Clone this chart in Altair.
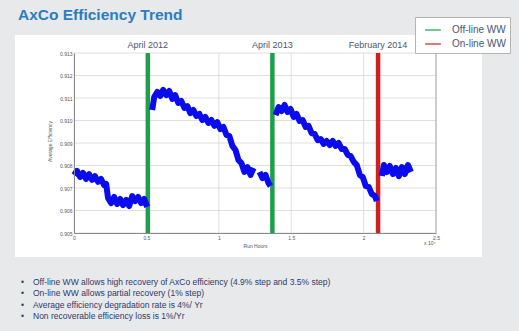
import altair as alt
import pandas as pd

# ---- efficiency trend, one run per wash interval (hours, efficiency) ----
run1_hours = [0, 210, 420, 620, 830, 1040, 1250, 1450, 1660, 1870, 2080, 2220,
              2350, 2560, 2770, 2980, 3190, 3390, 3600, 3810, 4020, 4220, 4430, 4640, 4850, 5050]
run1_eff = [0.90758, 0.90776, 0.90749, 0.90767, 0.90740, 0.90762, 0.90736, 0.90753, 0.90727, 0.90740, 0.90713, 0.90718,
            0.90656, 0.90633, 0.90660, 0.90629, 0.90651, 0.90624, 0.90647, 0.90620, 0.90664, 0.90642, 0.90660, 0.90633, 0.90651, 0.90616]

run2_hours = [5400, 5540, 5750, 5960, 6160, 6370, 6580, 6790, 6990, 7200, 7410, 7620, 7830, 8030, 8240, 8450, 8660, 8860,
              9070, 9280, 9490, 9700, 9900, 10110, 10320, 10530, 10730, 10940, 11150, 11360, 11560, 11770, 11980, 12190, 12400]
run2_eff = [0.91047, 0.91104, 0.91127, 0.91109, 0.91136, 0.91113, 0.91131, 0.91096, 0.91113, 0.91078, 0.91087, 0.91056,
            0.91064, 0.91033, 0.91047, 0.91020, 0.91029, 0.91002, 0.91016, 0.90989, 0.91002, 0.90976, 0.90993, 0.90962,
            0.90971, 0.90936, 0.90931, 0.90887, 0.90869, 0.90824, 0.90811, 0.90771, 0.90793, 0.90758, 0.90789]

run3_hours = [12810, 13020, 13230, 13430, 13570]
run3_eff = [0.90771, 0.90744, 0.90758, 0.90722, 0.90709]

run4_hours = [13920, 14130, 14330, 14540, 14750, 14960, 15170, 15370, 15580, 15790, 16000, 16200, 16410, 16620, 16830,
              17040, 17240, 17450, 17660, 17870, 18070, 18280, 18490, 18700, 18910, 19110, 19320, 19530, 19740, 19940,
              20150, 20360, 20570, 20780, 20910]
run4_eff = [0.91024, 0.91060, 0.91042, 0.91069, 0.91038, 0.91051, 0.91016, 0.91029, 0.90998, 0.91002, 0.90971, 0.90976,
            0.90944, 0.90940, 0.90913, 0.90918, 0.90896, 0.90909, 0.90891, 0.90909, 0.90887, 0.90900, 0.90873, 0.90873,
            0.90847, 0.90842, 0.90816, 0.90802, 0.90758, 0.90749, 0.90709, 0.90704, 0.90673, 0.90664, 0.90642]

run5_hours = [21260, 21400, 21610, 21810, 22020, 22230, 22440, 22650, 22850, 23060, 23270]
run5_eff = [0.90753, 0.90802, 0.90771, 0.90798, 0.90762, 0.90789, 0.90753, 0.90793, 0.90762, 0.90802, 0.90771]

# ---- wash events ----
wash_hours = [5100, 13700, 21000]
wash_type = ["Off-line WW", "Off-line WW", "On-line WW"]
wash_date = ["April 2012", "April 2013", "February 2014"]
wash_kinds = ["Off-line WW", "On-line WW"]

# ---- axes ----
y_ticks = [0.905, 0.906, 0.907, 0.908, 0.909, 0.910, 0.911, 0.912, 0.913]
x_ticks = [0, 5000, 10000, 15000, 20000, 25000]

title_text = "AxCo Efficiency Trend"
bullet_lines = [
    "Off-line WW allows high recovery of AxCo efficiency (4.9% step and 3.5% step)",
    "On-line WW allows partial recovery (1% step)",
    "Average efficiency degradation rate is 4%/ Yr",
    "Non recoverable efficiency loss is 1%/Yr",
]

runs = [run1_hours, run2_hours, run3_hours, run4_hours, run5_hours]
effs = [run1_eff, run2_eff, run3_eff, run4_eff, run5_eff]
rows = []
for i, (hh, ee) in enumerate(zip(runs, effs)):
    for h, e in zip(hh, ee):
        rows.append({"hours": h, "eff": e, "run": i})
trend = pd.DataFrame(rows)
washes = pd.DataFrame({"hours": wash_hours, "type": wash_type, "date": wash_date})
ygrid = pd.DataFrame({"eff": y_ticks})
xgrid = pd.DataFrame({"hours": x_ticks})
one = pd.DataFrame({"k": [0]})

BLUE = "#0b0bf0"
GREEN = "#1f9e4c"
RED = "#cf1f1f"
TEXT = "#4a5672"

xscale = alt.Scale(domain=[0, 25000], nice=False, zero=False)
yscale = alt.Scale(domain=[0.905, 0.913], nice=False, zero=False)
xaxis = alt.Axis(values=x_ticks, labelExpr="datum.value / 10000", labelFontSize=5, labelColor="#555",
                 labelFlush=False, labelPadding=2, ticks=False, grid=False, domainColor="#8a8a8a",
                 zindex=1, title="Run Hours", titleFontSize=5, titleFontWeight="normal",
                 titleColor="#555", titleY=10)
yaxis = alt.Axis(values=y_ticks, format=".3f", labelFontSize=5, labelColor="#555", labelPadding=2,
                 ticks=False, grid=False, domainColor="#8a8a8a", zindex=1,
                 title="Average Efficiency", titleFontSize=5, titleFontWeight="normal",
                 titleColor="#555", titleX=-22, titleY=88)
X = alt.X("hours:Q", scale=xscale, axis=xaxis)
Y = alt.Y("eff:Q", scale=yscale, axis=yaxis)
wash_scale = alt.Scale(domain=wash_kinds, range=[GREEN, RED])

panel = alt.Chart(one).mark_rect(color="white").encode(
    x=alt.value(-59), x2=alt.value(408), y=alt.value(-18), y2=alt.value(204))

hgrid = alt.Chart(ygrid).mark_rule(color="#d8d8d8", strokeWidth=0.8).encode(y=Y)
vgrid = alt.Chart(xgrid).mark_rule(color="#d8d8d8", strokeWidth=0.8).encode(x=X)
frame = alt.Chart(pd.DataFrame({"hours": [x_ticks[-1]]})).mark_rule(
    color="#9a9a9a", strokeWidth=0.8).encode(x=X)

# thick wash markers (no legend of their own)
wash_rules = alt.Chart(washes).mark_rule(strokeWidth=4.5).encode(
    x=X, color=alt.Color("type:N", scale=wash_scale, legend=None))

# thin-stroke key for the wash types; each wash is its own one-point line, so nothing shows in the plot
wash_key = alt.Chart(washes).mark_line(strokeWidth=1.2).encode(
    x=X, y=alt.value(0), detail="date:N",
    color=alt.Color("type:N", scale=wash_scale,
                    legend=alt.Legend(title=None, orient="none", legendX=341, legendY=-36,
                                      fillColor="white", strokeColor="#b4b4b4", padding=4,
                                      symbolType="M-1,0L1,0", symbolSize=250, symbolOffset=5,
                                      symbolStrokeWidth=1.2,
                                      labelFontSize=10, labelColor=TEXT, labelOffset=10,
                                      rowPadding=0, zindex=1)))

wash_text = alt.Chart(washes).mark_text(fontSize=9, color=TEXT, baseline="middle").encode(
    x=X, y=alt.value(-8), text="date:N")

line = alt.Chart(trend).mark_line(color=BLUE, strokeWidth=6, strokeJoin="round").encode(
    x=X, y=Y, detail="run:N")

mult = alt.Chart(one).mark_text(fontSize=5, color="#555", align="left").encode(
    x=alt.value(350), y=alt.value(190), text=alt.value("x 10\u2074"))

title = alt.Chart(one).mark_text(fontSize=15.5, fontWeight="bold", color="#2a7dc2",
                                 align="left", baseline="alphabetic").encode(
    x=alt.value(-56), y=alt.value(-33), text=alt.value(title_text))

bullets_dots = alt.Chart(pd.DataFrame({"t": ["\n".join(["\u2022"] * len(bullet_lines))]})).mark_text(
    fontSize=8.5, color="#2c3a6a", align="left", baseline="top", lineBreak="\n", lineHeight=11.4).encode(
    x=alt.value(-53), y=alt.value(225), text="t:N")
bullets_text = alt.Chart(pd.DataFrame({"t": ["\n".join(bullet_lines)]})).mark_text(
    fontSize=8.5, color="#2c3a6a", align="left", baseline="top", lineBreak="\n", lineHeight=11.4).encode(
    x=alt.value(-41), y=alt.value(225), text="t:N")

chart = alt.layer(panel, hgrid, vgrid, frame, wash_rules, wash_key, line, wash_text, mult, title,
                  bullets_dots, bullets_text).resolve_scale(color="independent").properties(
    width=362, height=180,
    padding={"left": 74, "top": 53, "right": 83, "bottom": 98},
    autosize=alt.AutoSizeParams(type="none"),
).configure(background="#e8e9eb", font="Liberation Sans").configure_view(strokeWidth=0)

chart.save("out.html", embed_options={"renderer": "svg", "actions": False})
